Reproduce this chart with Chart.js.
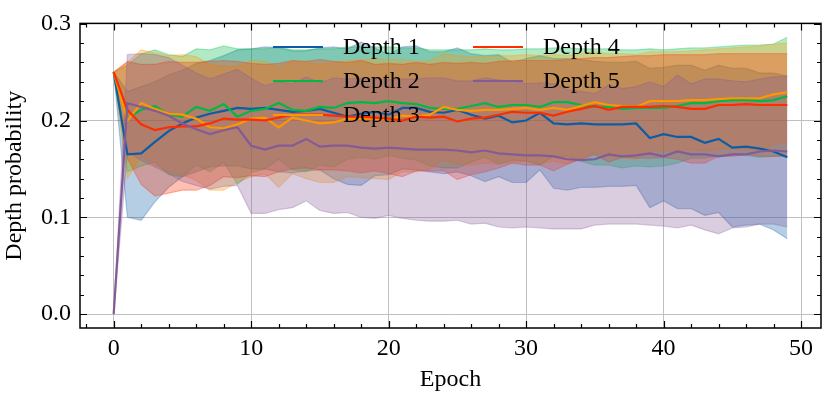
<!DOCTYPE html>
<html>
<head>
<meta charset="utf-8">
<script src="https://cdn.jsdelivr.net/npm/chart.js@4"></script>
<style>
  html, body { margin: 0; padding: 0; background: #fff; }
  #wrap { width: 830px; height: 398px; position: relative; }
</style>
</head>
<body>
<div id="wrap"><canvas id="depthChart" width="830" height="398"></canvas></div>
<script>
// epochs 0..49
const epochs = [...Array(50).keys()];

const seriesNames = ["Depth 1", "Depth 2", "Depth 3", "Depth 4", "Depth 5"];
const seriesColors = ["#0C5DA5", "#00B945", "#FF9500", "#FF2C00", "#845B97"];

// mean depth probability per epoch
const depth1Mean = [0.250, 0.165, 0.166, 0.178, 0.189, 0.197, 0.203, 0.207, 0.210, 0.213,
                    0.212, 0.213, 0.211, 0.209, 0.210, 0.212, 0.208, 0.204, 0.207, 0.209,
                    0.206, 0.213, 0.213, 0.209, 0.208, 0.211, 0.206, 0.202, 0.205, 0.198,
                    0.200, 0.208, 0.197, 0.196, 0.197, 0.196, 0.196, 0.196, 0.197, 0.182,
                    0.186, 0.183, 0.183, 0.177, 0.181, 0.172, 0.173, 0.171, 0.168, 0.162];
const depth2Mean = [0.250, 0.202, 0.211, 0.215, 0.206, 0.204, 0.214, 0.210, 0.217, 0.204,
                    0.210, 0.212, 0.218, 0.211, 0.210, 0.214, 0.213, 0.218, 0.219, 0.218,
                    0.220, 0.218, 0.217, 0.213, 0.212, 0.212, 0.215, 0.218, 0.214, 0.216,
                    0.216, 0.214, 0.219, 0.219, 0.216, 0.214, 0.214, 0.212, 0.213, 0.213,
                    0.213, 0.215, 0.218, 0.218, 0.220, 0.221, 0.221, 0.220, 0.221, 0.225];
const depth3Mean = [0.250, 0.200, 0.218, 0.212, 0.207, 0.206, 0.202, 0.193, 0.192, 0.196,
                    0.202, 0.203, 0.193, 0.203, 0.200, 0.197, 0.198, 0.202, 0.202, 0.202,
                    0.201, 0.205, 0.204, 0.206, 0.214, 0.211, 0.210, 0.211, 0.211, 0.212,
                    0.213, 0.211, 0.213, 0.211, 0.215, 0.219, 0.216, 0.215, 0.214, 0.220,
                    0.220, 0.220, 0.221, 0.221, 0.222, 0.223, 0.223, 0.223, 0.227, 0.229];
const depth4Mean = [0.250, 0.211, 0.196, 0.190, 0.193, 0.194, 0.194, 0.197, 0.202, 0.201,
                    0.201, 0.200, 0.203, 0.206, 0.206, 0.206, 0.205, 0.204, 0.204, 0.203,
                    0.202, 0.200, 0.204, 0.203, 0.204, 0.199, 0.202, 0.203, 0.206, 0.209,
                    0.208, 0.208, 0.205, 0.209, 0.212, 0.215, 0.211, 0.214, 0.214, 0.214,
                    0.215, 0.214, 0.212, 0.212, 0.216, 0.216, 0.217, 0.216, 0.216, 0.216];
const depth5Mean = [0.000, 0.218, 0.214, 0.210, 0.205, 0.197, 0.191, 0.186, 0.190, 0.193,
                    0.174, 0.170, 0.174, 0.174, 0.181, 0.173, 0.174, 0.174, 0.172, 0.171,
                    0.172, 0.171, 0.170, 0.170, 0.170, 0.169, 0.167, 0.169, 0.166, 0.165,
                    0.164, 0.164, 0.163, 0.160, 0.159, 0.160, 0.165, 0.163, 0.164, 0.166,
                    0.163, 0.168, 0.165, 0.165, 0.163, 0.165, 0.165, 0.168, 0.169, 0.168];

// standard deviation per epoch (shaded band = mean +/- std)
const depth1Std = [0.000, 0.065, 0.069, 0.062, 0.058, 0.055, 0.056, 0.055, 0.057, 0.060,
                   0.062, 0.063, 0.064, 0.063, 0.062, 0.063, 0.068, 0.070, 0.074, 0.066,
                   0.062, 0.063, 0.064, 0.062, 0.063, 0.064, 0.063, 0.065, 0.063, 0.062,
                   0.064, 0.059, 0.067, 0.068, 0.066, 0.065, 0.064, 0.064, 0.064, 0.072,
                   0.069, 0.074, 0.074, 0.075, 0.076, 0.082, 0.081, 0.078, 0.081, 0.084];
const depth2Std = [0.000, 0.055, 0.058, 0.058, 0.062, 0.062, 0.060, 0.063, 0.060, 0.070,
                   0.064, 0.062, 0.058, 0.062, 0.063, 0.060, 0.061, 0.058, 0.057, 0.058,
                   0.056, 0.057, 0.058, 0.060, 0.061, 0.061, 0.058, 0.056, 0.059, 0.057,
                   0.058, 0.060, 0.056, 0.056, 0.058, 0.060, 0.060, 0.061, 0.060, 0.061,
                   0.060, 0.059, 0.057, 0.057, 0.056, 0.056, 0.057, 0.058, 0.058, 0.061];
const depth3Std = [0.000, 0.060, 0.055, 0.058, 0.060, 0.062, 0.064, 0.065, 0.064, 0.060,
                   0.060, 0.058, 0.062, 0.058, 0.060, 0.061, 0.062, 0.060, 0.061, 0.062,
                   0.062, 0.058, 0.057, 0.056, 0.055, 0.056, 0.056, 0.055, 0.056, 0.055,
                   0.055, 0.056, 0.055, 0.056, 0.054, 0.052, 0.053, 0.054, 0.054, 0.051,
                   0.051, 0.051, 0.051, 0.052, 0.052, 0.052, 0.053, 0.054, 0.052, 0.051];
const depth4Std = [0.000, 0.050, 0.062, 0.068, 0.068, 0.066, 0.066, 0.064, 0.060, 0.060,
                   0.058, 0.058, 0.056, 0.056, 0.055, 0.057, 0.056, 0.056, 0.058, 0.055,
                   0.057, 0.058, 0.056, 0.055, 0.056, 0.060, 0.058, 0.056, 0.055, 0.053,
                   0.054, 0.054, 0.057, 0.054, 0.052, 0.050, 0.054, 0.052, 0.053, 0.053,
                   0.053, 0.054, 0.056, 0.056, 0.053, 0.053, 0.052, 0.053, 0.053, 0.053];
const depth5Std = [0.000, 0.050, 0.055, 0.058, 0.060, 0.060, 0.058, 0.057, 0.058, 0.060,
                   0.070, 0.066, 0.066, 0.064, 0.064, 0.066, 0.070, 0.069, 0.072, 0.072,
                   0.070, 0.072, 0.073, 0.074, 0.074, 0.072, 0.074, 0.075, 0.076, 0.076,
                   0.074, 0.075, 0.075, 0.072, 0.071, 0.068, 0.072, 0.070, 0.071, 0.074,
                   0.072, 0.079, 0.073, 0.078, 0.080, 0.076, 0.075, 0.075, 0.076, 0.078];

const xTicks = [0, 10, 20, 30, 40, 50];
const yTicks = [0.0, 0.1, 0.2, 0.3];

const means = [depth1Mean, depth2Mean, depth3Mean, depth4Mean, depth5Mean];
const stds = [depth1Std, depth2Std, depth3Std, depth4Std, depth5Std];

const FONT = "'Liberation Serif', 'Times New Roman', serif";

function rgba(hex, a) {
    const n = parseInt(hex.slice(1), 16);
    return `rgba(${(n >> 16) & 255}, ${(n >> 8) & 255}, ${n & 255}, ${a})`;
}

function pts(arr) {
    return arr.map((v, i) => ({ x: epochs[i], y: v }));
}

// bands first (drawn underneath), then lines
const datasets = [];
means.forEach((m, i) => {
    const upper = m.map((v, k) => v + stds[i][k]);
    const lower = m.map((v, k) => v - stds[i][k]);
    const upIdx = datasets.length;
    datasets.push({
        data: pts(upper),
        borderColor: rgba(seriesColors[i], 0.3),
        borderWidth: 1.2,
        pointRadius: 0,
        fill: false,
        order: 20 - i
    });
    datasets.push({
        data: pts(lower),
        borderColor: rgba(seriesColors[i], 0.3),
        backgroundColor: rgba(seriesColors[i], 0.3),
        borderWidth: 1.2,
        pointRadius: 0,
        fill: { target: upIdx },
        order: 20 - i
    });
});
means.forEach((m, i) => {
    datasets.push({
        label: seriesNames[i],
        data: pts(m),
        borderColor: seriesColors[i],
        borderWidth: 2.2,
        pointRadius: 0,
        fill: false,
        order: 10 - i
    });
});

// inward ticks on all four sides, frame and in-plot legend
const sciStyle = {
    id: "sciStyle",
    afterDraw(chart) {
        const { ctx, chartArea: a, scales } = chart;
        const xs = scales.x, ys = scales.y;
        ctx.save();
        ctx.strokeStyle = "#000";
        ctx.lineWidth = 1.2;
        ctx.beginPath();
        for (let v = -2; v <= 51; v += 2) {
            const px = Math.round(xs.getPixelForValue(v)) + 0.5;
            const len = v % 10 === 0 ? 7 : 4;
            ctx.moveTo(px, a.bottom); ctx.lineTo(px, a.bottom - len);
            ctx.moveTo(px, a.top); ctx.lineTo(px, a.top + len);
        }
        for (let k = 0; k <= 15; k++) {
            const v = k * 0.02;
            const py = Math.round(ys.getPixelForValue(v)) + 0.5;
            const len = k % 5 === 0 ? 7 : 4;
            ctx.moveTo(a.left, py); ctx.lineTo(a.left + len, py);
            ctx.moveTo(a.right, py); ctx.lineTo(a.right - len, py);
        }
        ctx.stroke();
        ctx.lineWidth = 1.5;
        ctx.strokeRect(a.left, a.top, a.right - a.left, a.bottom - a.top);

        // legend: two columns, no frame
        ctx.font = "24px " + FONT;
        ctx.textBaseline = "middle";
        ctx.fillStyle = "#000";
        const cols = [{ x: 273, idx: [0, 1, 2] }, { x: 473, idx: [3, 4] }];
        cols.forEach(c => {
            c.idx.forEach((s, r) => {
                const y = 47 + r * 34;
                ctx.strokeStyle = seriesColors[s];
                ctx.lineWidth = 2.2;
                ctx.beginPath();
                ctx.moveTo(c.x, y); ctx.lineTo(c.x + 50, y);
                ctx.stroke();
                ctx.fillText(seriesNames[s], c.x + 70, y + 1);
            });
        });
        ctx.restore();
    }
};

new Chart(document.getElementById("depthChart"), {
    type: "line",
    data: { datasets: datasets },
    options: {
        responsive: false,
        animation: false,
        layout: { padding: { left: 0, right: 9, top: 16, bottom: 0 } },
        plugins: {
            legend: { display: false },
            tooltip: { enabled: false }
        },
        scales: {
            x: {
                type: "linear",
                min: -2.45,
                max: 51.45,
                afterBuildTicks: s => { s.ticks = xTicks.map(v => ({ value: v })); },
                afterFit: s => { s.height = 70; },
                grid: { color: "#c0c0c0", lineWidth: 1, drawTicks: false },
                border: { display: false },
                ticks: {
                    padding: 6,
                    color: "#000",
                    font: { family: FONT, size: 24 },
                    maxRotation: 0,
                    callback: v => String(v)
                },
                title: {
                    display: true,
                    text: "Epoch",
                    color: "#000",
                    font: { family: FONT, size: 24 },
                    padding: { top: 0, bottom: 4 }
                }
            },
            y: {
                type: "linear",
                min: -0.0143,
                max: 0.3003,
                afterBuildTicks: s => { s.ticks = yTicks.map(v => ({ value: v })); },
                afterFit: s => { s.width = 80; },
                grid: { color: "#c0c0c0", lineWidth: 1, drawTicks: false },
                border: { display: false },
                ticks: {
                    padding: 9,
                    color: "#000",
                    font: { family: FONT, size: 24 },
                    callback: v => v.toFixed(1)
                },
                title: {
                    display: true,
                    text: "Depth probability",
                    color: "#000",
                    font: { family: FONT, size: 24 },
                    padding: { top: 0, bottom: 2 }
                }
            }
        }
    },
    plugins: [sciStyle]
});
</script>
</body>
</html>
